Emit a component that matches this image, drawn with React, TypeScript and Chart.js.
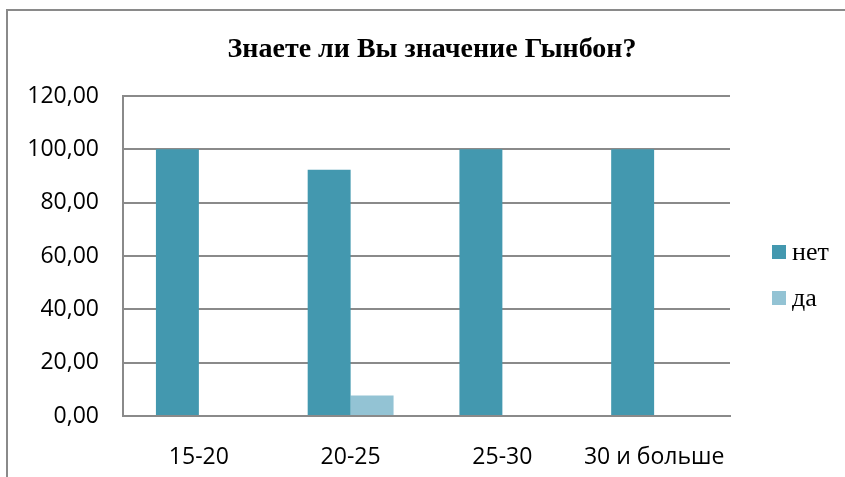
import React, { useEffect, useRef } from "react";
import { Chart, registerables } from "chart.js";
Chart.register(...registerables);

const titleText = "Знаете ли Вы значение Гынбон?";
const categories = ["15-20", "20-25", "25-30", "30 и больше"];
const seriesNames = ["нет", "да"];
const netValues = [100, 92.31, 100, 100];
const daValues = [0, 7.69, 0, 0];
const yTickValues = [0, 20, 40, 60, 80, 100, 120];
const yTickLabels = ["0,00", "20,00", "40,00", "60,00", "80,00", "100,00", "120,00"];
const seriesColors = ["#4398AF", "#93C3D4"];

const borderPlugin = {
  id: "frameBorder",
  beforeDraw(chart: any) {
    const ctx = chart.ctx;
    ctx.save();
    ctx.strokeStyle = "#8a8a8a";
    ctx.lineWidth = 2;
    ctx.beginPath();
    ctx.moveTo(7, 480);
    ctx.lineTo(7, 10);
    ctx.lineTo(850, 10);
    ctx.stroke();
    ctx.restore();
  },
};

const titlePlugin = {
  id: "centerTitle",
  afterDraw(chart: any) {
    const ctx = chart.ctx;
    ctx.save();
    ctx.fillStyle = "#000";
    ctx.font = 'bold 28px "Liberation Serif"';
    ctx.textAlign = "center";
    ctx.textBaseline = "middle";
    ctx.fillText(titleText, 432, 50);
    ctx.restore();
  },
};

const legendPlugin = {
  id: "sideLegend",
  afterDraw(chart: any) {
    const ctx = chart.ctx;
    ctx.save();
    chart.data.datasets.forEach((ds: any, i: number) => {
      const cy = 252 + i * 46;
      ctx.fillStyle = ds.backgroundColor;
      ctx.fillRect(772, cy - 7, 14, 14);
      ctx.fillStyle = "#000";
      ctx.font = '26px "Liberation Serif"';
      ctx.textBaseline = "middle";
      ctx.textAlign = "left";
      ctx.fillText(ds.label, 792, cy + 1);
    });
    ctx.restore();
  },
};

export default function App() {
  const ref = useRef<HTMLCanvasElement | null>(null);
  useEffect(() => {
    let chart: any = null;
    let cancelled = false;
    const make = () => {
      if (cancelled || !ref.current) return;
      chart = new Chart(ref.current, {
        type: "bar",
        data: {
          labels: categories,
          datasets: [
            { label: seriesNames[0], data: netValues, backgroundColor: seriesColors[0], categoryPercentage: 0.566, barPercentage: 1 },
            { label: seriesNames[1], data: daValues, backgroundColor: seriesColors[1], categoryPercentage: 0.566, barPercentage: 1 },
          ],
        },
        options: {
          responsive: false,
          animation: false,
          devicePixelRatio: 1,
          layout: { padding: { left: 0, right: 115, top: 96, bottom: 0 } },
          plugins: {
            legend: { display: false },
            tooltip: { enabled: false },
            title: { display: false },
          },
          scales: {
            x: {
              grid: { display: false },
              border: { display: true, color: "#8a8a8a", width: 2 },
              ticks: { color: "#000", font: { family: "Open Sans", size: 23 }, padding: 20, maxRotation: 0 },
              afterFit: (s: any) => { s.height = 61; },
            },
            y: {
              min: 0,
              max: 120,
              afterBuildTicks: (s: any) => { s.ticks = yTickValues.map((v) => ({ value: v })); },
              grid: { color: "#8a8a8a", lineWidth: 2, drawTicks: false },
              border: { display: true, color: "#8a8a8a", width: 2 },
              ticks: {
                color: "#000",
                font: { family: "Open Sans", size: 23 },
                padding: 24,
                callback: (v: any) => {
                  const i = yTickValues.indexOf(Number(v));
                  return i >= 0 ? yTickLabels[i] : "";
                },
              },
              afterFit: (s: any) => { s.width = 123; },
            },
          },
        },
        plugins: [borderPlugin, titlePlugin, legendPlugin],
      } as any);
    };
    const fontsReady = (document as any).fonts
      ? Promise.all([
          (document as any).fonts.load('23px "Open Sans"'),
          (document as any).fonts.load('bold 28px "Liberation Serif"'),
          (document as any).fonts.load('26px "Liberation Serif"'),
        ]).catch(() => null)
      : Promise.resolve(null);
    fontsReady.then(make);
    return () => {
      cancelled = true;
      if (chart) chart.destroy();
    };
  }, []);
  return (
    <div style={{ position: "absolute", left: 0, top: 0, width: 845, height: 477, background: "#fff" }}>
      <canvas ref={ref} width={845} height={477} style={{ display: "block" }} />
    </div>
  );
}
